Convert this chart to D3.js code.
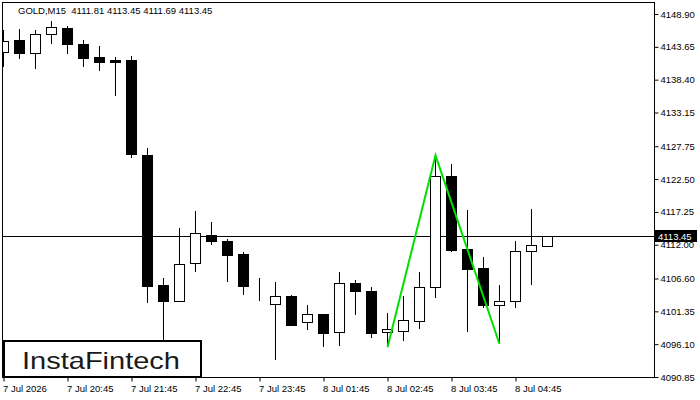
<!DOCTYPE html>
<html>
<head>
<meta charset="utf-8">
<script src="https://cdn.jsdelivr.net/npm/d3@7"></script>
<style>
  html, body { margin: 0; padding: 0; background: #fff; }
  svg { display: block; }
  text { font-family: "Liberation Sans", Arial, sans-serif; }
</style>
</head>
<body>
<svg id="chart" width="700" height="400"></svg>
<script>
const symbolTitle = "GOLD,M15  4111.81 4113.45 4111.69 4113.45";
const opens  = [4142.87,4144.74,4142.62,4145.65,4146.66,4144.15,4142.02,4141.54,4141.54,4126.35,4105.56,4103.05,4109.03,4113.51,4112.60,4110.52,4105.56,4102.47,4103.80,4099.60,4100.92,4098.00,4105.83,4104.60,4098.00,4098.25,4099.85,4105.19,4123.00,4111.32,4108.28,4102.31,4102.95,4110.95,4111.81];
const highs  = [4146.34,4146.45,4146.34,4147.78,4146.98,4144.69,4143.78,4142.02,4142.23,4127.42,4106.73,4114.63,4117.40,4115.64,4112.92,4110.84,4106.68,4106.04,4103.90,4102.36,4101.00,4107.64,4106.36,4105.29,4101.08,4103.80,4107.64,4126.08,4124.91,4117.56,4110.09,4105.56,4112.60,4117.72,4113.45];
const lows   = [4140.42,4141.70,4140.10,4144.15,4142.55,4140.47,4139.83,4135.79,4125.87,4102.73,4095.50,4103.05,4107.69,4111.96,4106.09,4104.01,4103.05,4093.61,4099.10,4098.37,4095.69,4095.85,4100.81,4097.13,4095.60,4096.60,4098.57,4103.53,4110.89,4098.09,4101.83,4096.13,4101.93,4105.61,4111.69];
const closes = [4144.63,4142.62,4145.70,4146.77,4144.05,4141.91,4141.27,4141.27,4126.51,4105.40,4103.05,4108.87,4113.83,4112.65,4110.41,4105.45,4105.50,4103.75,4099.21,4100.92,4097.93,4105.83,4104.65,4097.93,4098.52,4099.92,4105.24,4123.00,4111.16,4108.17,4102.41,4102.95,4111.00,4111.91,4113.45];
const priceTicks = [4148.90,4143.65,4138.40,4133.15,4127.75,4122.50,4117.25,4112.00,4106.60,4101.35,4096.10,4090.85];
const timeTickIdx = [0,4,8,12,16,20,24,28,32];
const timeLabels = ["7 Jul 2026","7 Jul 20:45","7 Jul 21:45","7 Jul 22:45","7 Jul 23:45","8 Jul 01:45","8 Jul 02:45","8 Jul 03:45","8 Jul 04:45"];
const patternIdx = [24, 27, 31];
const patternPrice = [4095.60, 4126.30, 4096.13];
const currentPrice = 4113.45;
const logoText = "InstaFintech";

const svg = d3.select("#chart");
const L = 2.5, T = 2.5, R = 654.5, B = 377.5;

const x = d3.scaleLinear().domain([0, 34]).range([3.5, 547.5]);
const y = d3.scaleLinear().domain([4090.85, 4148.90]).range([377, 14]);

svg.append("defs").append("clipPath").attr("id", "plotclip")
  .append("rect").attr("x", L + 0.5).attr("y", T + 0.5).attr("width", R - L - 1).attr("height", B - T - 1);

const plot = svg.append("g").attr("clip-path", "url(#plotclip)");

const candles = d3.range(opens.length).map(i => ({i, o: opens[i], h: highs[i], l: lows[i], c: closes[i]}));

// current price line
plot.append("line")
  .attr("x1", L).attr("x2", R)
  .attr("y1", Math.round(y(currentPrice)) + 0.5).attr("y2", Math.round(y(currentPrice)) + 0.5)
  .attr("stroke", "#000").attr("stroke-width", 1);

const g = plot.selectAll("g.candle").data(candles).join("g").attr("class", "candle");
g.append("line")
  .attr("x1", d => x(d.i)).attr("x2", d => x(d.i))
  .attr("y1", d => Math.round(y(d.h))).attr("y2", d => Math.round(y(d.l)))
  .attr("stroke", "#000").attr("stroke-width", 1);
g.append("rect")
  .attr("x", d => x(d.i) - 5)
  .attr("width", 10)
  .attr("y", d => Math.round(y(Math.max(d.o, d.c))) + 0.5)
  .attr("height", d => Math.max(0, Math.round(y(Math.min(d.o, d.c))) - Math.round(y(Math.max(d.o, d.c)))))
  .attr("fill", d => d.c >= d.o ? "#fff" : "#000")
  .attr("stroke", "#000").attr("stroke-width", 1);

// pattern line
plot.append("path")
  .datum(patternIdx.map((d, k) => [d, patternPrice[k]]))
  .attr("d", d3.line().x(d => x(d[0])).y(d => y(d[1])))
  .attr("fill", "none").attr("stroke", "#00e000").attr("stroke-width", 2);

// frame
svg.append("rect").attr("x", L).attr("y", T).attr("width", R - L).attr("height", B - T)
  .attr("fill", "none").attr("stroke", "#000").attr("stroke-width", 1);

// right axis
const yAxis = d3.axisRight(y).tickValues(priceTicks).tickFormat(d3.format(".2f")).tickSize(4).tickPadding(2);
const ya = svg.append("g").attr("transform", `translate(${R},0)`).call(yAxis);
ya.select(".domain").remove();
ya.selectAll("line").attr("stroke", "#000");
ya.selectAll("text").attr("font-size", "9.5px").attr("fill", "#000").attr("font-family", "Liberation Sans, Arial, sans-serif");

// bottom axis
const xAxis = d3.axisBottom(x).tickValues(timeTickIdx).tickFormat((d, k) => timeLabels[k]).tickSize(4).tickPadding(4);
const xa = svg.append("g").attr("transform", `translate(0,${B})`).call(xAxis);
xa.select(".domain").remove();
xa.selectAll("line").attr("stroke", "#000");
xa.selectAll("text").attr("text-anchor", "start").attr("font-size", "9.5px").attr("fill", "#000")
  .attr("font-family", "Liberation Sans, Arial, sans-serif").attr("dx", "-1");

// current price label
const py = Math.round(y(currentPrice));
svg.append("rect").attr("x", 655).attr("y", py - 6).attr("width", 42).attr("height", 12).attr("fill", "#000");
svg.append("text").attr("x", 658).attr("y", py + 4).attr("fill", "#fff").attr("font-size", "9.5px")
  .text(d3.format(".2f")(currentPrice));

// title
svg.append("text").attr("x", 18).attr("y", 14).attr("font-size", "9.5px").attr("fill", "#000")
  .attr("xml:space", "preserve").style("white-space", "pre").text(symbolTitle);

// logo
svg.append("rect").attr("x", 4).attr("y", 341).attr("width", 197).attr("height", 36)
  .attr("fill", "#fff").attr("stroke", "#000").attr("stroke-width", 2);
svg.append("text").attr("x", 22).attr("y", 369)
  .attr("font-family", "Inter, 'Noto Sans', sans-serif").attr("font-size", "24px").attr("font-weight", 500)
  .attr("textLength", 158).attr("lengthAdjust", "spacingAndGlyphs")
  .attr("fill", "#1a1a1a").text(logoText);
</script>
</body>
</html>
